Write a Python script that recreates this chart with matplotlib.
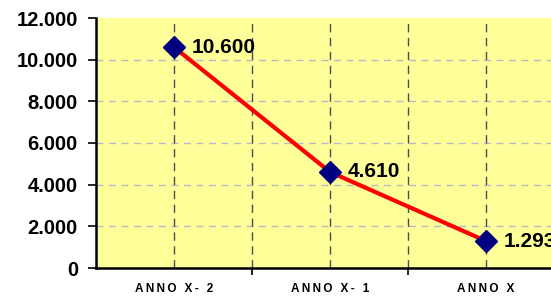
import matplotlib.pyplot as plt
from matplotlib.ticker import FuncFormatter

# data
categories = ['ANNO X- 2', 'ANNO X- 1', 'ANNO X']
values = [10600, 4610, 1293]
yticks = [0, 2000, 4000, 6000, 8000, 10000, 12000]

plt.rcParams['font.family'] = ['Liberation Sans', 'DejaVu Sans']

def spaced(s):
    # wide letter spacing like the original labels
    return s.replace('', '\u2009').strip('\u2009')

fig = plt.figure(figsize=(5.51, 3.0), dpi=100)
ax = fig.add_axes([96/551, 32/300, 468/551, 250/300])
ax.set_facecolor('#FFFF99')

x = list(range(len(categories)))
ax.set_xlim(-0.5, len(categories) - 0.5)
ax.set_ylim(0, 12000)

# grid: light horizontal, dark vertical (centres and boundaries)
for t in yticks[1:-1]:
    ax.axhline(t, color='#b8b8c8', lw=1, ls=(0, (5, 4)), zorder=1)
for i in x:
    ax.axvline(i, color='#4d4d4d', lw=1, ls=(0, (6, 4)), zorder=1)
for i in x[:-1]:
    ax.axvline(i + 0.5, color='#4d4d4d', lw=1, ls=(0, (6, 4)), zorder=1)

ax.plot(x, values, color='red', lw=3, zorder=3)
ax.plot(x, values, ls='none', marker='D', markersize=11, color='#000080',
        markeredgecolor='#000080', zorder=4)

fmt = lambda v: f'{v:,.0f}'.replace(',', '.')
for i, v in zip(x, values):
    ax.annotate(fmt(v), (i, v), xytext=(13, 0), textcoords='offset points',
                ha='left', va='center', fontsize=15, fontweight='bold',
                annotation_clip=False, zorder=5)

ax.set_yticks(yticks)
ax.yaxis.set_major_formatter(FuncFormatter(lambda v, p: fmt(v)))
ax.set_xticks([i + 0.5 for i in x])
ax.set_xticklabels([])
ax.set_xticks(x, minor=True)
ax.set_xticklabels([spaced(c) for c in categories], minor=True, fontsize=8.5,
                   fontweight='bold')
ax.tick_params(axis='x', which='minor', length=0, pad=11)
ax.tick_params(axis='x', which='major', length=5, width=1.2, direction='out')
ax.tick_params(axis='y', length=6, width=1.2, labelsize=14.5, pad=7)
for lab in ax.get_yticklabels():
    lab.set_fontweight('bold')

for s in ['top', 'right']:
    ax.spines[s].set_visible(False)
for s in ['left', 'bottom']:
    ax.spines[s].set_linewidth(1.8)

fig.savefig('out.png', dpi=100)
